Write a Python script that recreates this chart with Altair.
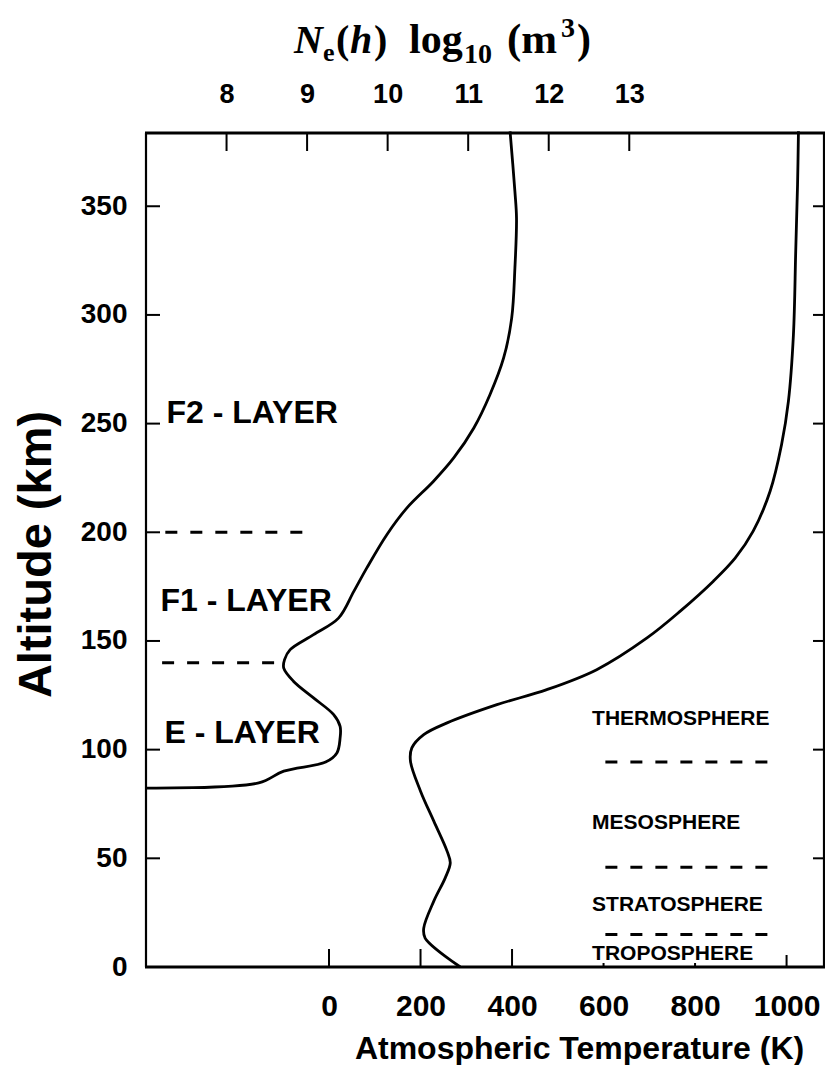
import altair as alt
import pandas as pd

# ---------------- data ----------------
# Electron density profile: log10 Ne vs altitude (km)
ne_log = [7.00, 8.40, 8.71, 9.23, 9.37, 9.41, 9.41, 9.33, 9.08, 8.83, 8.71, 8.72, 8.79,
          9.08, 9.39, 9.58, 9.74, 9.99, 10.24, 10.57, 10.82, 11.07, 11.27, 11.44,
          11.54, 11.58, 11.60, 11.58, 11.52]
ne_alt = [82.3, 84.7, 90.1, 94.3, 98.5, 105.4, 110.7, 116.1, 123.8, 131.5, 137.5, 141.4, 146.0,
          152.9, 160.5, 172.8, 183.5, 198.9, 211.2, 223.5, 234.2, 248.0, 263.3, 280.2,
          298.5, 321.5, 344.5, 356.8, 384.5]

# Atmospheric temperature profile: K vs altitude (km)
temp_k = [287, 210, 207, 229, 254, 265, 258, 229, 200, 178, 181, 207, 258, 367, 476, 585,
          695, 767, 840, 888, 927, 964, 989, 1004, 1015, 1020, 1024, 1026]
temp_alt = [0.0, 13.3, 17.9, 30.3, 41.0, 47.9, 53.3, 67.1, 80.9, 94.7, 100.8, 106.9, 112.3,
            120.7, 127.6, 136.8, 151.4, 163.6, 177.5, 188.2, 200.5, 218.9, 240.3,
            260.2, 290.9, 329.2, 359.9, 384.5]

top_ticks = [8, 9, 10, 11, 12, 13]
bottom_ticks = [0, 200, 400, 600, 800, 1000]
alt_ticks = [0, 50, 100, 150, 200, 250, 300, 350]

layer_names = ["F2 - LAYER", "F1 - LAYER", "E - LAYER"]
layer_name_log = [7.255, 7.18, 7.23]
layer_name_alt = [250.3, 163.6, 103.0]

sphere_names = ["THERMOSPHERE", "MESOSPHERE", "STRATOSPHERE", "TROPOSPHERE"]
sphere_name_k = [575, 575, 575, 575]
sphere_name_alt = [111.2, 63.6, 25.6, 3.4]

# layer boundaries (dashed)
iono_bound_alt = [200, 140]
iono_bound_start = [7.24, 7.20]
iono_bound_end = [9.00, 8.63]
atm_bound_alt = [94.3, 45.9, 14.9]
atm_bound_start = [604, 604, 604]
atm_bound_end = [964, 964, 964]

# ---------------- chart ----------------
W, H = 679, 834
FONT = "Liberation Sans"
SERIF = "Liberation Serif"

yscale = alt.Scale(domain=[0, 383.7], nice=False, zero=False)
xlog = alt.Scale(domain=[7.0, 15.43], nice=False, zero=False)
xT = alt.Scale(domain=[-400, 1084], nice=False, zero=False)

yaxis = alt.Axis(values=alt_ticks, format="d", ticks=False, domain=False, grid=False,
                 labelFont=FONT, labelFontWeight="bold", labelFontSize=28,
                 labelColor="black", labelPadding=19, labelFlush=False, labelOverlap=False,
                 title="Altitude (km)", titleFont=FONT, titleFontWeight="bold",
                 titleFontSize=47, titleColor="black", titleAngle=270,
                 titleX=-96, titleY=421, titleAlign="center", titleBaseline="alphabetic")

def Y(field="alt"):
    return alt.Y(f"{field}:Q", scale=yscale, axis=yaxis)

top_axis = alt.Axis(orient="top", values=top_ticks, format="d", ticks=False, domain=False,
                    grid=False, labelFont=FONT, labelFontWeight="bold", labelFontSize=27,
                    labelColor="black", labelPadding=25, labelFlush=False)
bottom_axis = alt.Axis(orient="bottom", values=bottom_ticks, format="d", ticks=False,
                       domain=False, grid=False, labelFont=FONT, labelFontWeight="bold",
                       labelFontSize=30, labelColor="black", labelPadding=24, labelFlush=False,
                       title="Atmospheric Temperature  (K)", titleFont=FONT,
                       titleFontWeight="bold", titleFontSize=32, titleColor="black",
                       titleX=433, titleY=91, titleAlign="center", titleBaseline="alphabetic")

ne_df = pd.DataFrame({"i": range(len(ne_log)), "log": ne_log, "alt": ne_alt})
t_df = pd.DataFrame({"i": range(len(temp_k)), "T": temp_k, "alt": temp_alt})

ne_line = alt.Chart(ne_df).mark_line(color="black", strokeWidth=2.8,
                                     interpolate="catmull-rom").encode(
    x=alt.X("log:Q", scale=xlog, axis=top_axis, title=None),
    y=Y(), order="i:Q")

t_line = alt.Chart(t_df).mark_line(color="black", strokeWidth=2.8,
                                   interpolate="catmull-rom").encode(
    x=alt.X("T:Q", scale=xT, axis=bottom_axis),
    y=Y(), order="i:Q")

iono_b = alt.Chart(pd.DataFrame({"alt": iono_bound_alt, "x0": iono_bound_start,
                                 "x1": iono_bound_end})).mark_rule(
    color="black", strokeWidth=3, strokeDash=[12, 13]).encode(
    x=alt.X("x0:Q", scale=xlog, axis=None), x2="x1:Q", y=Y())

atm_b = alt.Chart(pd.DataFrame({"alt": atm_bound_alt, "x0": atm_bound_start,
                                "x1": atm_bound_end})).mark_rule(
    color="black", strokeWidth=3, strokeDash=[12, 13]).encode(
    x=alt.X("x0:Q", scale=xT, axis=None), x2="x1:Q", y=Y())

layer_txt = alt.Chart(pd.DataFrame({"label": layer_names, "log": layer_name_log,
                                    "alt": layer_name_alt})).mark_text(
    font=FONT, fontWeight="bold", fontSize=32, align="left", baseline="alphabetic",
    color="black").encode(
    x=alt.X("log:Q", scale=xlog, axis=None), y=Y(), text="label:N")

sphere_txt = alt.Chart(pd.DataFrame({"label": sphere_names, "T": sphere_name_k,
                                     "alt": sphere_name_alt})).mark_text(
    font=FONT, fontWeight="bold", fontSize=21, align="left", baseline="alphabetic",
    color="black").encode(
    x=alt.X("T:Q", scale=xT, axis=None), y=Y(), text="label:N")

# inward ticks
top_tk = alt.Chart(pd.DataFrame({"v": top_ticks})).mark_rule(color="black", strokeWidth=2).encode(
    x=alt.X("v:Q", scale=xlog, axis=None), y=alt.value(0), y2=alt.value(18))
bt_long = alt.Chart(pd.DataFrame({"v": bottom_ticks[:3]})).mark_rule(color="black", strokeWidth=2).encode(
    x=alt.X("v:Q", scale=xT, axis=None), y=alt.value(H - 18), y2=alt.value(H))
bt_short = alt.Chart(pd.DataFrame({"v": bottom_ticks[3:5]})).mark_rule(color="black", strokeWidth=2).encode(
    x=alt.X("v:Q", scale=xT, axis=None), y=alt.value(H - 4), y2=alt.value(H))
bt_mid = alt.Chart(pd.DataFrame({"v": bottom_ticks[5:]})).mark_rule(color="black", strokeWidth=2).encode(
    x=alt.X("v:Q", scale=xT, axis=None), y=alt.value(H - 12), y2=alt.value(H))
left_tk = alt.Chart(pd.DataFrame({"v": alt_ticks})).mark_rule(color="black", strokeWidth=2).encode(
    y=Y("v"), x=alt.value(0), x2=alt.value(14))
right_tk = alt.Chart(pd.DataFrame({"v": alt_ticks[1:]})).mark_rule(color="black", strokeWidth=2).encode(
    y=Y("v"), x=alt.value(W - 12), x2=alt.value(W))

one = pd.DataFrame({"k": [0]})
frame = [
    alt.Chart(one).mark_rule(color="black", strokeWidth=3.2).encode(
        x=alt.value(-1), x2=alt.value(W), y=alt.value(0)),
    alt.Chart(one).mark_rule(color="black", strokeWidth=3.2).encode(
        x=alt.value(-1), x2=alt.value(W), y=alt.value(H)),
    alt.Chart(one).mark_rule(color="black", strokeWidth=2.2).encode(
        x=alt.value(0), y=alt.value(0), y2=alt.value(H)),
    alt.Chart(one).mark_rule(color="black", strokeWidth=2.2).encode(
        x=alt.value(W - 1), y=alt.value(0), y2=alt.value(H)),
]

def piece(txt, x, y, size, italic=False):
    return alt.Chart(one).mark_text(
        text=txt, font=SERIF, fontWeight="bold", fontStyle="italic" if italic else "normal",
        fontSize=size, align="left", baseline="alphabetic", color="black").encode(
        x=alt.value(x), y=alt.value(y))

title = [
    piece("N", 148, -80, 40, True),
    piece("e", 177, -72, 26),
    piece("(", 190, -80, 40),
    piece("h", 204, -80, 40, True),
    piece(")", 228, -80, 40),
    piece("log", 263, -80, 42),
    piece("10", 318, -70, 28),
    piece("(m", 361, -80, 43),
    piece("3", 415, -96, 28),
    piece(")", 431, -80, 42),
]

chart = alt.layer(
    ne_line, t_line, iono_b, atm_b, layer_txt, sphere_txt,
    top_tk, bt_long, bt_short, bt_mid, left_tk, right_tk, *frame, *title
).resolve_scale(x="independent").properties(
    width=W, height=H,
    autosize=alt.AutoSizeParams(type="none"),
    padding={"left": 138, "top": 125, "right": 0, "bottom": 98},
    background="white",
).configure_view(stroke=None).configure_axis(grid=False)

chart.save("out.html", embed_options={"renderer": "svg", "actions": False})
